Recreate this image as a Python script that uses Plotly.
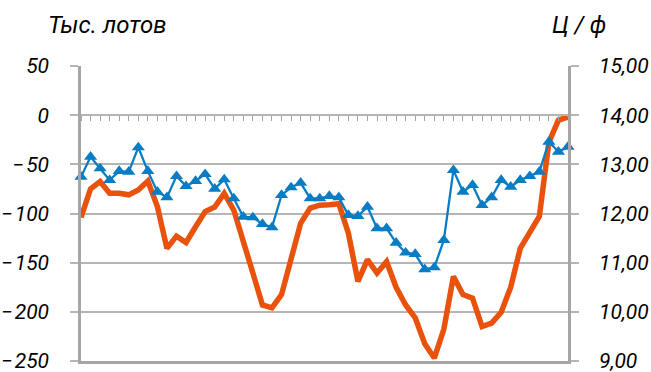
import plotly.graph_objects as go

# Categories (weeks)
weeks = list(range(1, 53))

# Net positions, thousand lots (left axis)
positions = [-62.7, -42.4, -54.2, -66.1, -56.9, -57.6, -32.8, -56.9, -77.9, -83.6,
             -62.0, -72.2, -67.0, -60.0, -74.9, -65.3, -84.7, -103.4, -104.0, -110.8,
             -114.1, -81.3, -73.5, -68.8, -84.7, -84.7, -82.3, -83.6, -101.6, -102.6,
             -93.2, -115.1, -115.1, -129.8, -139.9, -141.3, -156.8, -154.8, -127.0, -55.9,
             -77.9, -71.1, -91.5, -83.6, -66.0, -72.8, -66.0, -62.0, -57.6, -27.1,
             -37.3, -32.2]

# Price, c/lb (right axis)
price = [11.92, 12.50, 12.65, 12.41, 12.41, 12.38, 12.48, 12.66, 12.14, 11.29,
         11.54, 11.41, 11.73, 12.04, 12.13, 12.41, 12.07, 11.46, 10.79, 10.14,
         10.08, 10.35, 11.12, 11.80, 12.11, 12.17, 12.18, 12.20, 11.60, 10.62,
         11.06, 10.79, 11.02, 10.50, 10.14, 9.88, 9.35, 9.06, 9.65, 10.72,
         10.35, 10.28, 9.70, 9.77, 9.99, 10.50, 11.29, 11.60, 11.94, 13.45,
         13.90, 13.96]

# Tick labels
left_ticks = [50, 0, -50, -100, -150, -200, -250]
left_labels = ["50", "0", "\u2212\u200a50", "\u2212\u200a100", "\u2212\u200a150", "\u2212\u200a200", "\u2212\u200a250"]
right_ticks = [15, 14, 13, 12, 11, 10, 9]
right_labels = ["15,00", "14,00", "13,00", "12,00", "11,00", "10,00", "9,00"]

left_title = "Тыс. лотов"
right_title = "Ц / ф"

BLUE = "#0A7CC4"
ORANGE = "#E8520C"
AXIS = "#A6A6A6"
GRID = "#B5B5B5"
FONT = "Roboto"

fig = go.Figure()
fig.add_trace(go.Scatter(
    x=weeks, y=price, mode="lines",
    line=dict(color=ORANGE, width=5.5),
    xaxis="x", yaxis="y", showlegend=False, hoverinfo="skip"))
fig.add_trace(go.Scatter(
    x=weeks, y=positions, mode="lines+markers",
    line=dict(color=BLUE, width=2.3),
    marker=dict(symbol="triangle-up", size=11.5, color=BLUE),
    xaxis="x2", yaxis="y2", showlegend=False, cliponaxis=False, hoverinfo="skip"))

tickfont = dict(family=FONT, size=21, color="#000000", style="italic")

fig.update_layout(
    width=651, height=372,
    margin=dict(l=81, r=83, t=66, b=11, autoexpand=False),
    paper_bgcolor="white", plot_bgcolor="white",
    xaxis=dict(range=[1, 52], showline=True, linecolor=AXIS, linewidth=2.5,
               ticks="", showticklabels=False, showgrid=False, zeroline=False,
               anchor="y", automargin=False),
    yaxis=dict(side="right", range=[9, 15],
               tickvals=right_ticks, ticktext=right_labels,
               showline=True, linecolor=AXIS, linewidth=2.5,
               ticks="outside", ticklen=8, tickwidth=1.5, tickcolor=GRID,
               showgrid=True, gridcolor=GRID, gridwidth=1.5, zeroline=False,
               tickfont=tickfont, ticklabelstandoff=16, ticklabeloverflow="allow",
               anchor="x", automargin=False),
    xaxis2=dict(overlaying="x", anchor="free", position=250 / 300,
                range=[1, 52], tick0=1, dtick=1, ticks="outside", ticklen=5,
                tickwidth=1.2, tickcolor=AXIS, showline=True, linecolor=GRID,
                linewidth=1.5, showticklabels=False, showgrid=False, zeroline=False,
                automargin=False),
    yaxis2=dict(overlaying="y", side="left", anchor="x", range=[-250, 50],
                tickvals=left_ticks, ticktext=left_labels,
                showline=True, linecolor=AXIS, linewidth=2.5,
                ticks="outside", ticklen=8, tickwidth=1.5, tickcolor=GRID,
                showgrid=False, zeroline=False, tickfont=tickfont,
                ticklabelstandoff=17, ticklabeloverflow="allow", automargin=False),
    annotations=[
        dict(text=left_title, xref="paper", yref="paper",
             x=(46 - 81) / 487, y=(361 - 25) / 295, xanchor="left", yanchor="middle",
             showarrow=False, font=dict(family=FONT, size=24, color="#000000", style="italic")),
        dict(text=right_title, xref="paper", yref="paper",
             x=(550 - 81) / 487, y=(361 - 25) / 295, xanchor="left", yanchor="middle",
             showarrow=False, font=dict(family=FONT, size=23.5, color="#000000", style="italic")),
    ],
)

fig.write_html("out.html")
